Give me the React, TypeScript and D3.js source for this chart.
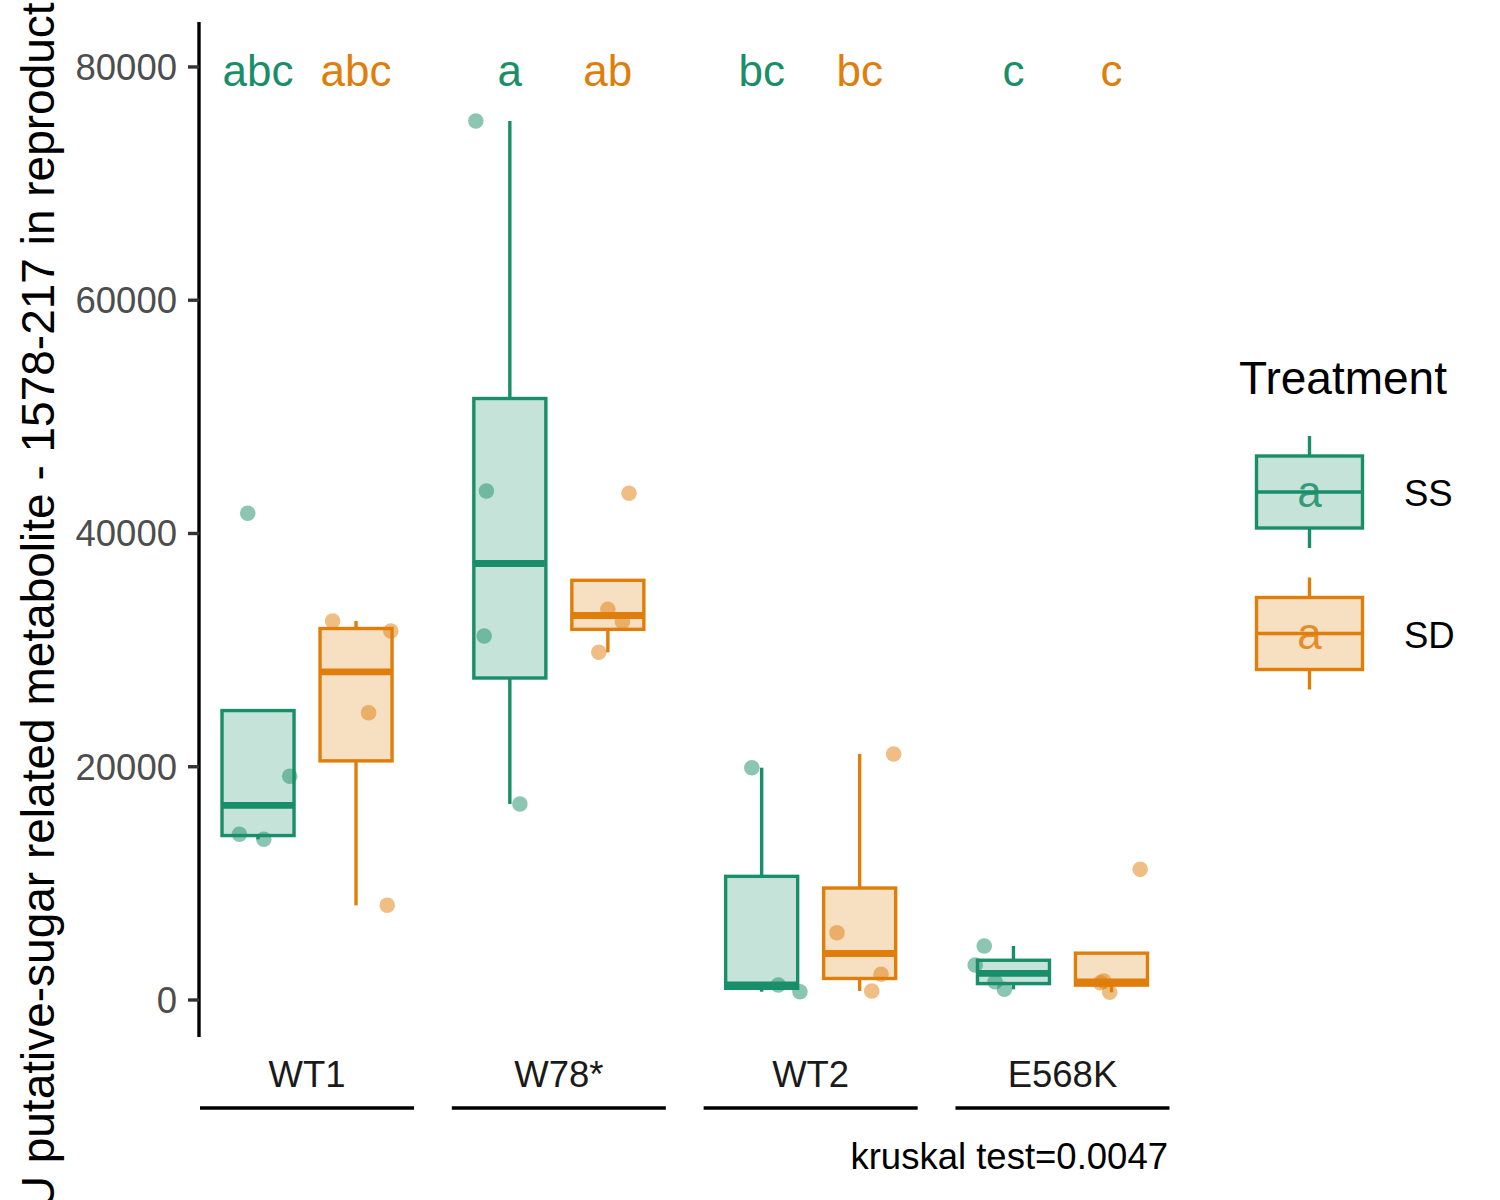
import React from "react";
import * as d3 from "d3";

const groups = ["WT1", "W78*", "WT2", "E568K"];
const treatments = ["SS", "SD"];
const colors = ["#1A8E68", "#E07E0C"];

// values read per group, SS then SD
const ssValues = [
  [41730, 19180, 14207, 13778],
  [75365, 43642, 31209, 16805],
  [19920, 1286, 712],
  [4630, 3000, 1570, 917],
];
const sdValues = [
  [32495, 31638, 24634, 8119],
  [43445, 33498, 32436, 29812],
  [21092, 5770, 2203, 772],
  [11204, 1620, 1480, 660],
];
// horizontal jitter of each point (in group units)
const ssJitter = [
  [-0.041, 0.126, -0.074, 0.023],
  [-0.135, -0.093, -0.102, 0.04],
  [-0.039, 0.066, 0.152],
  [-0.116, -0.152, -0.073, -0.036],
];
const sdJitter = [
  [-0.093, 0.138, 0.05, 0.124],
  [0.084, 0.0, 0.058, -0.036],
  [0.135, -0.09, 0.085, 0.048],
  [0.114, -0.031, -0.044, -0.007],
];
const ssLetters = ["abc", "a", "bc", "c"];
const sdLetters = ["abc", "ab", "bc", "c"];
const yTicks = [0, 20000, 40000, 60000, 80000];

const yTitle = "AU putative-sugar related metabolite - 1578-217 in reproductive organs";
const kruskalLabel = "kruskal test=0.0047";

const FONT = "Liberation Sans, Arial, Helvetica, sans-serif";
const DODGE = 0.1946;
const BOX_W = 0.286;

const boxStats = (vals: number[]) => {
  const s = [...vals].sort(d3.ascending);
  const q1 = d3.quantile(s, 0.25)!;
  const med = d3.quantile(s, 0.5)!;
  const q3 = d3.quantile(s, 0.75)!;
  const iqr = q3 - q1;
  const inside = s.filter((v) => v >= q1 - 1.5 * iqr && v <= q3 + 1.5 * iqr);
  return { q1, med, q3, lo: d3.min(inside)!, hi: d3.max(inside)! };
};

export default function App() {
  const width = 1500;
  const height = 1200;

  const xScale = d3.scaleLinear().domain([0.571, 4.429]).range([199, 1170.5]);
  const yScale = d3.scaleLinear().domain([-3172, 83855]).range([1037, 22]);

  const allValues = [...ssValues.flat(), ...sdValues.flat()];
  const letterY = 1.04 * d3.max(allValues)!;

  const series = [
    { values: ssValues, jitter: ssJitter, letters: ssLetters, offset: -DODGE, color: colors[0] },
    { values: sdValues, jitter: sdJitter, letters: sdLetters, offset: DODGE, color: colors[1] },
  ];

  const boxes = series.map((ser, si) =>
    groups.map((g, gi) => {
      const st = boxStats(ser.values[gi]);
      const cx = xScale(gi + 1 + ser.offset);
      const x0 = xScale(gi + 1 + ser.offset - BOX_W / 2);
      const x1 = xScale(gi + 1 + ser.offset + BOX_W / 2);
      return (
        <g key={`${si}-${gi}`}>
          {st.hi > st.q3 && (
            <line x1={cx} x2={cx} y1={yScale(st.q3)} y2={yScale(st.hi)} stroke={ser.color} strokeWidth={3.4} />
          )}
          {st.lo < st.q1 && (
            <line x1={cx} x2={cx} y1={yScale(st.q1)} y2={yScale(st.lo)} stroke={ser.color} strokeWidth={3.4} />
          )}
          <rect
            x={x0}
            y={yScale(st.q3)}
            width={x1 - x0}
            height={yScale(st.q1) - yScale(st.q3)}
            fill={ser.color}
            fillOpacity={0.25}
            stroke={ser.color}
            strokeWidth={3.4}
          />
          <line x1={x0} x2={x1} y1={yScale(st.med)} y2={yScale(st.med)} stroke={ser.color} strokeWidth={6.8} />
        </g>
      );
    })
  );

  const points = series.map((ser, si) =>
    groups.map((g, gi) =>
      ser.values[gi].map((v, pi) => (
        <circle
          key={`${si}-${gi}-${pi}`}
          cx={xScale(gi + 1 + ser.offset + ser.jitter[gi][pi])}
          cy={yScale(v)}
          r={7.8}
          fill={ser.color}
          fillOpacity={0.5}
        />
      ))
    )
  );

  const letters = series.map((ser, si) =>
    groups.map((g, gi) => (
      <text
        key={`${si}-${gi}`}
        x={xScale(gi + 1 + ser.offset)}
        y={yScale(letterY)}
        textAnchor="middle"
        fontSize={44}
        fill={ser.color}
      >
        {ser.letters[gi]}
      </text>
    ))
  );

  const legendKeys = treatments.map((t, i) => {
    const cy = 492 + i * 141.5;
    const cx = 1309.5;
    const c = colors[i];
    return (
      <g key={t}>
        <line x1={cx} x2={cx} y1={cy - 56} y2={cy + 56} stroke={c} strokeWidth={3.4} />
        <rect x={cx - 53} y={cy - 36} width={106} height={72} fill="#fff" />
        <rect x={cx - 53} y={cy - 36} width={106} height={72} fill={c} fillOpacity={0.25} stroke={c} strokeWidth={3.4} />
        <line x1={cx - 53} x2={cx + 53} y1={cy} y2={cy} stroke={c} strokeWidth={3.4} />
        <text x={cx} y={cy + 15} textAnchor="middle" fontSize={44} fill={c} fillOpacity={0.85}>
          a
        </text>
        <text x={1404} y={cy + 14} fontSize={36.5} fill="#000">
          {t}
        </text>
      </g>
    );
  });

  return (
    <svg
      width={width}
      height={height}
      style={{ position: "absolute", left: 0, top: 0, background: "#fff" }}
      fontFamily={FONT}
    >
      <rect width={width} height={height} fill="#fff" />

      {/* y axis */}
      <line x1={199} x2={199} y1={yScale.range()[1]} y2={yScale.range()[0]} stroke="#000" strokeWidth={3.4} />
      {yTicks.map((t) => (
        <g key={t}>
          <line x1={188} x2={199} y1={yScale(t)} y2={yScale(t)} stroke="#333" strokeWidth={3.4} />
          <text x={177} y={yScale(t) + 13} textAnchor="end" fontSize={36.5} fill="#4D4D4D">
            {t}
          </text>
        </g>
      ))}
      <text
        transform={`translate(54, 1240) rotate(-90)`}
        x={0}
        y={0}
        textAnchor="start"
        fontSize={46}
        fill="#000"
      >
        {yTitle}
      </text>

      {/* x axis group labels with nested lines */}
      {groups.map((g, gi) => (
        <g key={g}>
          <text x={xScale(gi + 1)} y={1087} textAnchor="middle" fontSize={36.5} fill="#1a1a1a">
            {g}
          </text>
          <line
            x1={xScale(gi + 1 - 0.425)}
            x2={xScale(gi + 1 + 0.425)}
            y1={1108}
            y2={1108}
            stroke="#000"
            strokeWidth={3.4}
          />
        </g>
      ))}

      {boxes}
      {points}
      {letters}

      <text x={1168} y={1169} textAnchor="end" fontSize={36.5} fill="#000">
        {kruskalLabel}
      </text>

      {/* legend */}
      <text x={1239} y={394} fontSize={46} fill="#000">
        Treatment
      </text>
      {legendKeys}
    </svg>
  );
}
